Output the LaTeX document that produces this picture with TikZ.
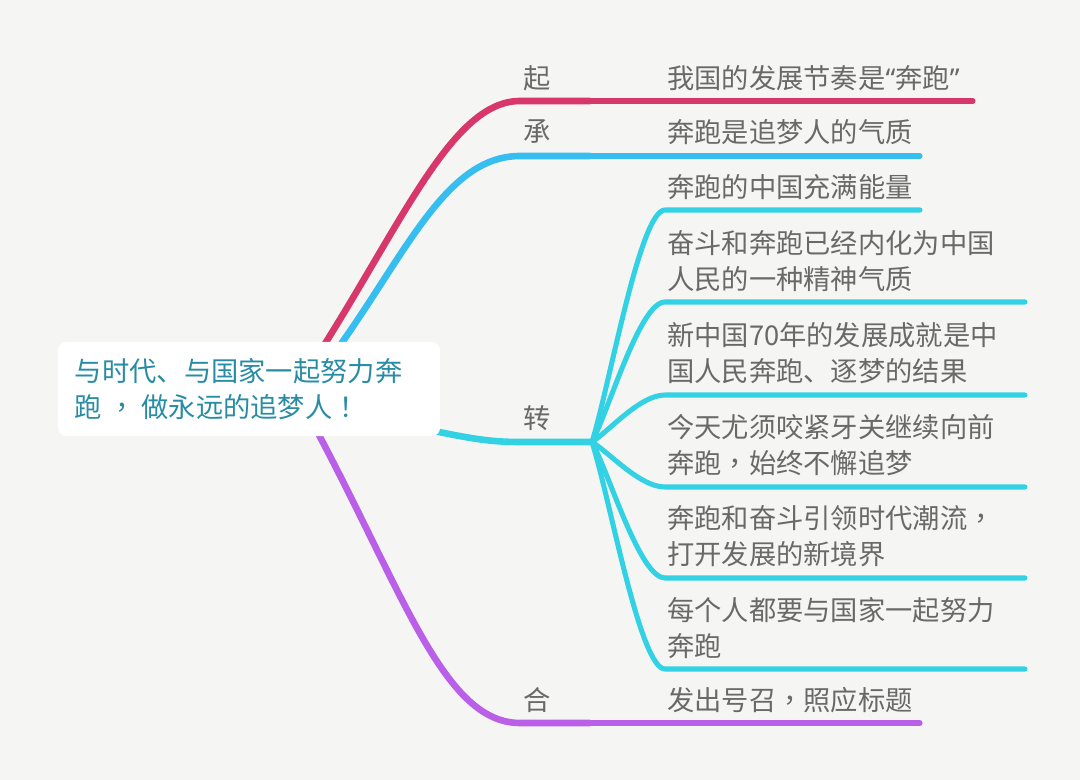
\documentclass[tikz,border=0pt]{standalone}
\usepackage{fontspec}
\setmainfont{Noto Sans CJK SC}
\newfontfamily\tcfont{Noto Sans CJK TC}
\newfontfamily\quotefont{Noto Sans}
\usepackage{tikz}
\usetikzlibrary{calc}

\definecolor{bgpaper}{RGB}{245,246,243}
\definecolor{roottext}{RGB}{40,140,165}
\definecolor{txtgrey}{RGB}{105,105,105}
\definecolor{qired}{RGB}{215,55,105}
\definecolor{chengblue}{RGB}{55,190,240}
\definecolor{zhuancyan}{RGB}{50,210,228}
\definecolor{hepurple}{RGB}{185,95,232}

% centred full-width comma, narrow quotes
\newcommand{\cma}{{\tcfont ，}}
\newcommand{\openq}{{\quotefont “}}
\newcommand{\closeq}{{\quotefont ”}}

\begin{document}
\begin{tikzpicture}[x=0.025cm, y=-0.025cm, line cap=round,
  mainline/.style={line width=4.7pt},
  subline/.style={line width=3.6pt},
  tagtext/.style={text=txtgrey, font=\fontsize{19.4}{25.6}\selectfont, inner sep=0pt},
  topictext/.style={tagtext, anchor=west, align=left},
  rootbox/.style={fill=white, rounded corners=0.2cm, text=roottext,
    font=\fontsize{19.4}{25.6}\selectfont, align=left, text width=8.7cm,
    inner xsep=0.425cm, minimum height=2.35cm}]

  % ---------- paper ----------
  \fill[bgpaper] (0,0) rectangle (1080,780);
  \useasboundingbox (0,0) rectangle (1080,780);

  % ---------- anchor points ----------
  \coordinate (qi-in)     at (305,375);
  \coordinate (qi-bend)   at (520,101);
  \coordinate (qi-knee)   at (590,101);
  \coordinate (qi-end)    at (973,101);
  \coordinate (cheng-in)  at (318,375);
  \coordinate (cheng-bend) at (520,156);
  \coordinate (cheng-knee) at (590,156);
  \coordinate (cheng-end) at (920,156);
  \coordinate (zhuan-in)  at (380,420);
  \coordinate (zhuan-bend) at (520,442);
  \coordinate (hub)       at (592,442);
  \coordinate (he-in)     at (300,400);
  \coordinate (he-bend)   at (520,723);
  \coordinate (he-knee)   at (590,723);
  \coordinate (he-end)    at (920,723);

  % ---------- main branches ----------
  \draw[mainline, qired] (qi-in) .. controls (400,230) and (450,101) .. (qi-bend) -- (qi-knee);
  \draw[subline, qired] (qi-knee) -- (qi-end);
  \draw[mainline, chengblue] (cheng-in) .. controls (400,270) and (440,156) .. (cheng-bend) -- (cheng-knee);
  \draw[subline, chengblue] (cheng-knee) -- (cheng-end);
  \draw[mainline, zhuancyan] (zhuan-in) .. controls (460,436) and (480,442) .. (zhuan-bend) -- (hub);
  \draw[mainline, hepurple] (he-in) .. controls (400,580) and (440,723) .. (he-bend) -- (he-knee);
  \draw[subline, hepurple] (he-knee) -- (he-end);

  % ---------- sub branches of zhuan ----------
  \foreach \yy/\xe in {210/920, 302/1025, 395/1025, 487/1025, 578/1025, 669/1025}{
    \draw[subline, zhuancyan] (hub) .. controls (610,{442+0.25*(\yy-442)}) and (640,\yy) .. (665,\yy) -- (\xe,\yy);
  }

  % ---------- root ----------
  \node[rootbox] (root) at (249,389)
    {与时代、与国家一起努力奔\\跑\hspace{0.15cm}\cma\hspace{0.15cm}做永远的追梦人{\tcfont ！}};

  % ---------- branch tags ----------
  \node[tagtext] (qi)    at (537,78)  {起};
  \node[tagtext] (cheng) at (537,132) {承};
  \node[tagtext] (zhuan) at (537,418) {转};
  \node[tagtext] (he)    at (537,700) {合};

  % ---------- topics ----------
  \node[topictext] (t-qi)    at (667,78)  {我国的发展节奏是\openq 奔跑\closeq};
  \node[topictext] (t-cheng) at (667,132) {奔跑是追梦人的气质};
  \node[topictext] (t-z1) at (667,187) {奔跑的中国充满能量};
  \node[topictext] (t-z2) at (667,261) {奋斗和奔跑已经内化为中国\\人民的一种精神气质};
  \node[topictext] (t-z3) at (667,353) {新中国70年的发展成就是中\\国人民奔跑、逐梦的结果};
  \node[topictext] (t-z4) at (667,445) {今天尤须咬紧牙关继续向前\\奔跑\cma{}始终不懈追梦};
  \node[topictext] (t-z5) at (667,536) {奔跑和奋斗引领时代潮流\cma\\打开发展的新境界};
  \node[topictext] (t-z6) at (667,628) {每个人都要与国家一起努力\\奔跑};
  \node[topictext] (t-he)    at (667,700) {发出号召\cma{}照应标题};

\end{tikzpicture}
\end{document}
